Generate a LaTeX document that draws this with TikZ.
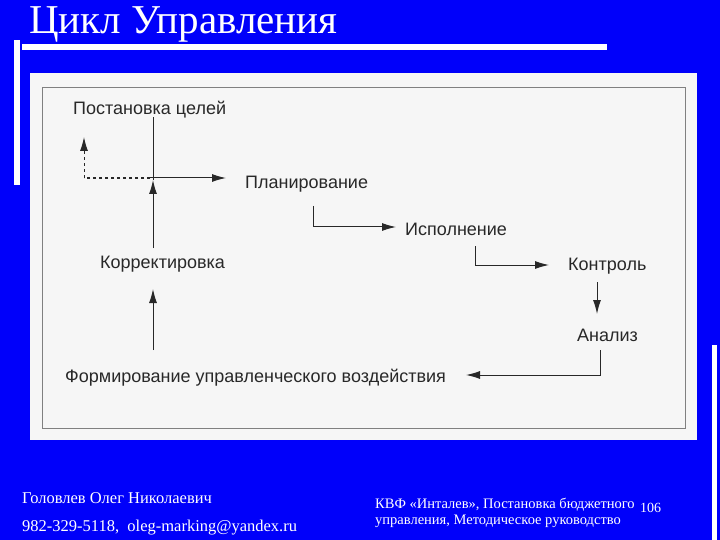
\documentclass[tikz,border=0pt]{standalone}
\usepackage{fontspec}
\setmainfont{Liberation Serif}
\newfontfamily\dsans{Liberation Sans}
\usetikzlibrary{arrows.meta}
\definecolor{bg}{RGB}{0,0,250}
\definecolor{panel}{RGB}{246,246,246}
\definecolor{ink}{RGB}{40,40,40}
\begin{document}
\begin{tikzpicture}[x=1pt,y=-1pt,
  lbl/.style={font=\dsans\fontsize{18}{20}\selectfont,text=ink,inner sep=0pt,anchor=west},
  conn/.style={draw=ink,line width=1pt,-{Latex[length=14pt,width=8pt]}},
  plain/.style={draw=ink,line width=1pt},
  foot/.style={font=\fontsize{16.5}{18}\selectfont,text=white,inner sep=0pt,anchor=west}]
\fill[bg] (0,0) rectangle (720,540);
\useasboundingbox (0,0) rectangle (720,540);
\node[font=\fontsize{41}{44}\selectfont,text=white,inner sep=0pt,anchor=west] (title) at (29,24) {Цикл Управления};
\fill[white] (22,44) rectangle (607,50);
\fill[white] (14,40) rectangle (20,185);
\fill[white] (712,345) rectangle (717,540);
\fill[panel] (30,73) rectangle (697,440);
\draw[gray,line width=0.6pt] (42,87) rectangle (685,428);
\node[lbl] (goal) at (73,110) {Постановка целей};
\node[lbl] (plan) at (245,184) {Планирование};
\node[lbl] (corr) at (100,264) {Корректировка};
\node[lbl] (isp) at (405,229) {Исполнение};
\node[lbl] (ctrl) at (568,266) {Контроль};
\node[lbl] (anal) at (577,335) {Анализ};
\node[lbl] (form) at (65,378) {Формирование управленческого воздействия};
\coordinate (dc) at (84,178);
\coordinate (mid) at (150,178);
\coordinate (vt) at (153,117);
\coordinate (vx) at (153,180);
\draw[plain,dashed,line width=1.2pt] (mid) -- (dc);
\draw[conn,dashed] (dc) -- (84,137);
\draw[conn] (mid) -- (226,178);
\draw[plain] (vx) -- (vt);
\draw[conn] (153,248) -- (vx);
\draw[conn] (153,350) -- (153,289);
\draw[conn] (313,206) |- (396,227);
\draw[conn] (475,246) |- (549,265);
\draw[conn] (597,282) -- (597,314);
\draw[conn] (600,350) |- (466,375);
\node[foot] (n1) at (22,498) {Головлев Олег Николаевич};
\node[foot] (n2) at (22,528) {982-329-5118, \ oleg-marking@yandex.ru};
\node[foot,align=left,font=\fontsize{14.5}{16}\selectfont] (n3) at (375,513) {КВФ «Инталев», Постановка бюджетного\\управления, Методическое руководство};
\node[foot,font=\fontsize{14}{16}\selectfont] (pg) at (640,508) {106};
\end{tikzpicture}
\end{document}
